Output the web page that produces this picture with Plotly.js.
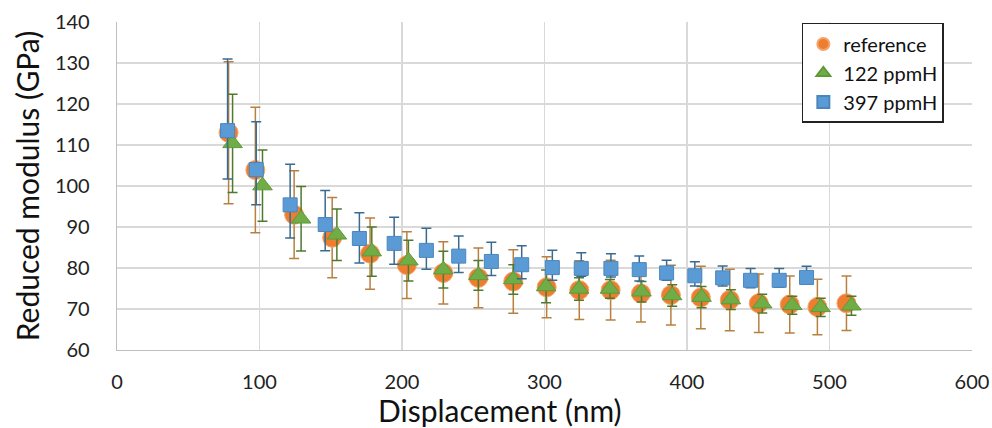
<!DOCTYPE html>
<html>
<head>
<meta charset="utf-8">
<script src="https://cdn.plot.ly/plotly-3.0.1.min.js"></script>
<style>html,body{margin:0;padding:0;background:#fff;}#chart{width:992px;height:428px;}</style>
</head>
<body>
<div id="chart"></div>
<script>
// reference series
const refX = [78.3, 97.1, 124.3, 151.0, 177.6, 203.4, 229.0, 253.6, 278.1, 301.5, 324.4, 346.4, 367.7, 388.7, 409.7, 430.0, 450.4, 472.1, 491.5, 511.9];
const refY = [113.0, 103.9, 93.0, 87.4, 83.5, 80.7, 78.8, 77.6, 76.7, 75.3, 74.6, 74.6, 73.8, 73.4, 72.8, 72.2, 71.4, 71.1, 70.5, 71.4];
const refErr = [17.3, 15.3, 10.7, 9.8, 8.7, 8.15, 7.6, 7.3, 7.75, 7.45, 7.15, 7.3, 7.0, 7.3, 7.6, 7.5, 7.15, 6.95, 6.75, 6.65];

// 122 ppmH series
const h122X = [81.1, 102.1, 129.2, 154.3, 178.8, 204.5, 229.0, 253.6, 278.1, 301.1, 324.2, 345.9, 368.1, 389.6, 410.2, 430.8, 452.8, 473.9, 493.8, 515.4];
const h122Y = [110.4, 100.1, 92.0, 88.1, 84.0, 81.8, 79.6, 78.2, 77.2, 75.5, 74.9, 74.9, 74.2, 73.3, 72.9, 72.3, 71.3, 70.9, 70.4, 70.8];
const h122Err = [12.0, 8.7, 7.85, 6.3, 6.0, 4.95, 4.5, 3.6, 3.6, 4.0, 2.75, 2.3, 2.5, 2.6, 2.6, 2.4, 2.3, 2.2, 2.2, 2.3];

// 397 ppmH series
const h397X = [77.6, 97.7, 121.5, 146.1, 170.1, 194.5, 217.1, 239.8, 262.7, 284.0, 305.5, 325.8, 346.6, 366.5, 385.7, 405.5, 425.0, 444.6, 464.7, 483.9];
const h397Y = [113.5, 104.0, 95.4, 90.6, 87.2, 86.0, 84.3, 82.9, 81.6, 80.8, 80.1, 79.9, 79.9, 79.6, 78.8, 78.1, 77.6, 77.0, 77.0, 77.7];
const h397ErrPlus = [17.5, 11.7, 9.9, 8.3, 6.3, 6.4, 5.4, 4.9, 4.7, 4.6, 4.2, 3.8, 3.6, 3.3, 3.1, 3.4, 2.9, 2.9, 2.9, 2.7];
const h397ErrMinus = [11.8, 8.6, 8.1, 6.4, 6.0, 5.1, 4.6, 4.0, 3.4, 3.4, 3.1, 1.9, 2.1, 2.8, 1.8, 2.5, 2.0, 1.8, 1.7, 1.6];

const seriesNames = ["reference", "122 ppmH", "397 ppmH"];
const xTicks = [0, 100, 200, 300, 400, 500, 600];
const yTicks = [60, 70, 80, 90, 100, 110, 120, 130, 140];
const xTitle = "Displacement (nm)";
const yTitle = "Reduced modulus (GPa)";

const FONT = "Lato, Open Sans, sans-serif";

const traces = [
  {
    type: "scatter", mode: "markers", name: seriesNames[0],
    x: refX, y: refY,
    marker: {symbol: "circle", size: 19, color: "#ED7D31", line: {color: "#F4A46A", width: 1}},
    error_y: {type: "data", array: refErr, visible: true, color: "#B8803F", thickness: 1.5, width: 5}
  },
  {
    type: "scatter", mode: "markers", name: seriesNames[1],
    x: h122X, y: h122Y,
    marker: {symbol: "triangle-up", size: 17, color: "#70AD47", line: {color: "#5E9A38", width: 1}},
    error_y: {type: "data", array: h122Err, visible: true, color: "#4E7A2C", thickness: 1.5, width: 5}
  },
  {
    type: "scatter", mode: "markers", name: seriesNames[2],
    x: h397X, y: h397Y,
    marker: {symbol: "square", size: 14, color: "#5B9BD5", line: {color: "#4A86BE", width: 1}},
    error_y: {type: "data", symmetric: false, array: h397ErrPlus, arrayminus: h397ErrMinus, visible: true, color: "#3A6A90", thickness: 1.5, width: 5}
  }
];

const layout = {
  width: 992, height: 428,
  margin: {l: 116.7, r: 19.7, t: 21.7, b: 78, pad: 0},
  paper_bgcolor: "#fff", plot_bgcolor: "#fff",
  font: {family: FONT, color: "#1a1a1a"},
  showlegend: true,
  legend: {
    x: 0.801, y: 0.997, xanchor: "left", yanchor: "top",
    bgcolor: "#fff", bordercolor: "#222", borderwidth: 1.5,
    font: {family: FONT, size: 20, color: "#111"},
    tracegroupgap: 0, itemsizing: "constant"
  },
  xaxis: {
    range: [0, 600], tickvals: xTicks, ticktext: xTicks.map(String),
    showgrid: true, gridcolor: "#D9D9D9", gridwidth: 1.3,
    showline: true, linecolor: "#BFBFBF", linewidth: 1.3, mirror: false,
    zeroline: false, ticks: "", ticklabelstandoff: 14,
    tickfont: {family: FONT, size: 20, color: "#222"}
  },
  yaxis: {
    range: [60, 140], tickvals: yTicks, ticktext: yTicks.map(String),
    showgrid: true, gridcolor: "#D9D9D9", gridwidth: 1.3,
    showline: true, linecolor: "#BFBFBF", linewidth: 1.3,
    zeroline: false, ticks: "", ticklabelstandoff: 22,
    tickfont: {family: FONT, size: 20, color: "#222"},
    title: {text: yTitle, font: {family: FONT, size: 30, color: "#111"}, standoff: 6}
  },
  annotations: [
    {text: xTitle, xref: "paper", yref: "paper", x: 0.448, y: -0.182,
     xanchor: "center", yanchor: "middle", showarrow: false,
     font: {family: FONT, size: 30, color: "#111"}}
  ]
};

Plotly.newPlot("chart", traces, layout, {displayModeBar: false, staticPlot: true});
</script>
</body>
</html>
